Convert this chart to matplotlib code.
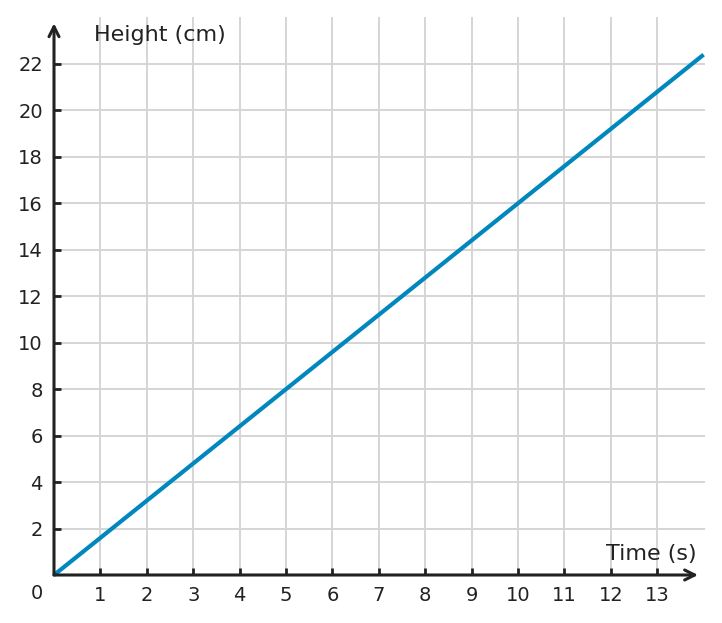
import os
import matplotlib
import matplotlib.pyplot as plt
from matplotlib import font_manager as fm

FONT = os.path.join(matplotlib.get_data_path(), "fonts", "ttf", "DejaVuSans.ttf")

# data
time_s = [0, 14]
height_cm = [0, 22.4]
x_ticks = list(range(1, 14))
y_ticks = list(range(2, 23, 2))

LINE = "#0087bd"
GRID = "#d5d5d5"
AX = "#222222"


def fp(size):
    return fm.FontProperties(fname=FONT, size=size)


fig = plt.figure(figsize=(7.22, 6.23), dpi=100)
ax = fig.add_axes([54 / 722, 48 / 623, 651 / 722, 558 / 623])
ax.set_xlim(0, 14.03)
ax.set_ylim(0, 24.02)

ax.set_xticks(x_ticks)
ax.set_yticks(y_ticks)
ax.set_xticklabels([str(v) for v in x_ticks], fontproperties=fp(14), color=AX)
ax.set_yticklabels([str(v) for v in y_ticks], fontproperties=fp(14), color=AX)
ax.grid(True, color=GRID, linewidth=1.4, zorder=0)
for s in ax.spines.values():
    s.set_visible(False)
ax.tick_params(direction="in", length=5, width=2, color=AX, pad=8)

ax.plot(time_s, height_cm, color=LINE, linewidth=3, solid_capstyle="butt",
        zorder=3, clip_on=False)

# axes with arrows
ax.annotate("", xy=(13.88, 0), xytext=(0, 0),
            arrowprops=dict(arrowstyle="->", color=AX, lw=2.2,
                            mutation_scale=18, shrinkA=0, shrinkB=0),
            annotation_clip=False, zorder=4)
ax.annotate("", xy=(0, 23.75), xytext=(0, 0),
            arrowprops=dict(arrowstyle="->", color=AX, lw=2.2,
                            mutation_scale=18, shrinkA=0, shrinkB=0),
            annotation_clip=False, zorder=4)

ax.text(0.87, 23.25, "Height (cm)", fontproperties=fp(16), color=AX, va="center", ha="left")
ax.text(13.85, 0.9, "Time (s)", fontproperties=fp(16), color=AX, va="center", ha="right")
ax.text(-0.37, -0.8, "0", fontproperties=fp(14), color=AX, va="center", ha="center")

fig.savefig("out.png", dpi=100)
